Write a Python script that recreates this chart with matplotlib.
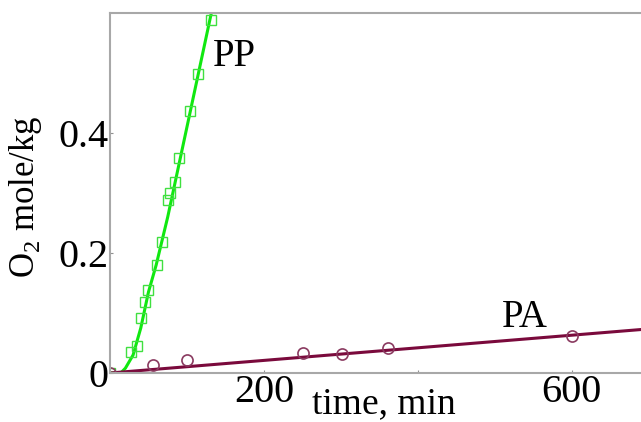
import matplotlib
matplotlib.use("Agg")
import matplotlib.pyplot as plt

plt.rcParams['font.family'] = ['Liberation Serif', 'DejaVu Serif']
plt.rcParams['mathtext.fontset'] = 'custom'
plt.rcParams['mathtext.rm'] = 'Liberation Serif'

# PP: measured points (squares) and fitted curve -----------------------
pp_t  = [0, 27, 35, 40, 45, 49, 61, 68, 75, 78, 84, 90, 104, 114, 131]
pp_o2 = [0.0, 0.035, 0.045, 0.092, 0.118, 0.138, 0.18, 0.218, 0.288, 0.30,
         0.318, 0.358, 0.437, 0.498, 0.588]
pp_fit_t  = [0, 14, 20, 30, 40, 50, 60, 75, 90, 105, 120, 135]
pp_fit_o2 = [0.0, 0.0, 0.008, 0.03, 0.075, 0.135, 0.18, 0.26, 0.35, 0.44, 0.53, 0.62]

# PA: measured points (circles) and fitted line ------------------------
pa_t  = [0, 56, 100, 251, 301, 361, 600]
pa_o2 = [0.0, 0.013, 0.022, 0.033, 0.032, 0.042, 0.062]
pa_fit_t  = [0, 700]
pa_fit_o2 = [0.0, 0.0735]

xticks = [200, 400, 600]
xtick_labels = ['200', '', '600']
yticks = [0, 0.2, 0.4]
ytick_labels = ['0', '0.2', '0.4']

fig = plt.figure(figsize=(6.41, 4.22), dpi=100)
ax = fig.add_axes([0.1716, 0.1161, 0.8284, 0.8531])

green = '#10e810'
maroon = '#7a0a3c'
ax.plot(pp_fit_t, pp_fit_o2, color=green, linewidth=2.2)
ax.plot(pp_t, pp_o2, linestyle='none', marker='s', markersize=7,
        markerfacecolor='none', markeredgecolor='#40e040', markeredgewidth=1.0)
ax.plot(pa_fit_t, pa_fit_o2, color=maroon, linewidth=2.2)
ax.plot(pa_t, pa_o2, linestyle='none', marker='o', markersize=8,
        markerfacecolor='none', markeredgecolor='#8a3a60', markeredgewidth=1.2)

ax.text(134, 0.527, 'PP', fontsize=28, va='center', ha='left')
ax.text(509, 0.093, 'PA', fontsize=28, va='center', ha='left')

ax.set_xlim(0, 690)
ax.set_ylim(0, 0.6)
ax.set_xticks(xticks)
ax.set_xticklabels(xtick_labels)
ax.set_yticks(yticks)
ax.set_yticklabels(ytick_labels)
ax.tick_params(direction='in', length=2, color='#909090', labelsize=29, pad=1)

for side in ['left', 'bottom', 'top']:
    ax.spines[side].set_color('#a8a8a8')
    ax.spines[side].set_linewidth(1.5)
ax.spines['right'].set_visible(False)

ax.set_xlabel('time, min', fontsize=27)
ax.xaxis.set_label_coords(0.515, -0.038)
ax.xaxis.label.set_va('top')
ax.set_ylabel(r'O$_2$ mole/kg', fontsize=25)
ax.yaxis.set_label_coords(-0.16, 0.49)
ax.yaxis.label.set_va('center')

fig.savefig('out.png', dpi=100)
